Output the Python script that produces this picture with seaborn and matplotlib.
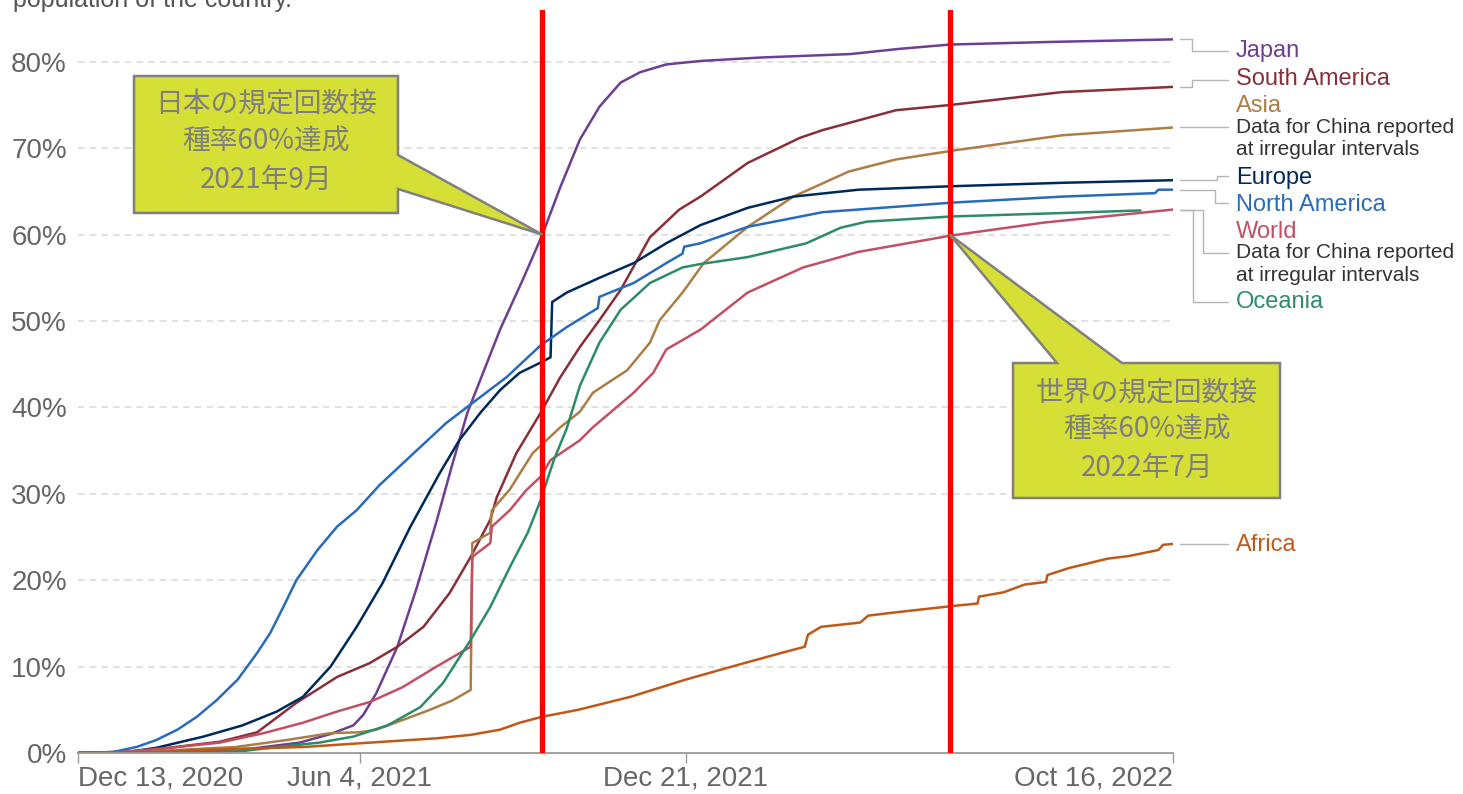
import matplotlib
matplotlib.use("Agg")
import matplotlib.pyplot as plt
import matplotlib.dates as mdates
from matplotlib.patches import Polygon
from matplotlib.lines import Line2D
from matplotlib.transforms import blended_transform_factory
import pandas as pd
import seaborn as sns

START = pd.Timestamp("2020-12-13")
END = pd.Timestamp("2022-10-16")

# Share of people with the initial vaccination protocol completed (%),
# sampled at days since 2020-12-13.
japan_days = [0, 50, 106, 136, 155, 169, 175, 183, 196, 208, 220, 230, 239, 259, 273,
              285, 296, 308, 320, 333, 345, 361, 382, 419, 474, 504, 535, 596, 672]
japan_pct = [0, 0, 0.5, 1.2, 2.2, 3.2, 4.4, 6.9, 12.3, 19.2, 26.8, 33.6, 39.4, 49.0, 54.8,
             60.0, 65.5, 71.0, 74.8, 77.6, 78.8, 79.7, 80.1, 80.5, 80.9, 81.5, 82.0, 82.3, 82.6]

south_america_days = [0, 38, 87, 110, 134, 159, 179, 196, 212, 228, 241, 253, 257, 269, 284,
                      296, 308, 320, 333, 351, 369, 382, 411, 443, 457, 502, 535, 604, 672]
south_america_pct = [0, 0.2, 1.3, 2.4, 5.8, 8.8, 10.4, 12.3, 14.6, 18.5, 22.7, 27.0, 29.6, 34.7, 39.4,
                     43.5, 47.0, 50.1, 53.6, 59.7, 62.9, 64.4, 68.3, 71.2, 72.1, 74.4, 75.0, 76.5, 77.1]

asia_days = [0, 56, 97, 128, 155, 173, 183, 199, 216, 230, 241, 242, 253, 254, 265, 279,
             296, 308, 316, 337, 351, 357, 371, 384, 411, 439, 473, 502, 536, 604, 672]
asia_pct = [0, 0.3, 0.7, 1.5, 2.3, 2.4, 2.7, 3.8, 5.0, 6.1, 7.3, 24.3, 25.5, 28.1, 30.5, 34.7,
            37.7, 39.5, 41.7, 44.3, 47.5, 50.1, 53.3, 56.7, 60.9, 64.4, 67.3, 68.7, 69.7, 71.5, 72.4]

europe_days = [0, 26, 48, 77, 101, 122, 138, 155, 171, 187, 204, 222, 234, 247, 259,
               271, 284, 290, 291, 300, 320, 341, 361, 382, 411, 439, 479, 536, 604, 672]
europe_pct = [0, 0, 0.6, 1.9, 3.2, 4.8, 6.5, 10.0, 14.6, 19.7, 26.2, 32.4, 36.2, 39.4, 42.0,
              44.0, 45.2, 45.8, 52.2, 53.3, 55.0, 56.7, 59.0, 61.1, 63.1, 64.4, 65.2, 65.6, 66.0, 66.3]

north_america_days = [0, 21, 36, 48, 61, 73, 85, 98, 110, 118, 126, 134, 147, 159, 171, 185,
                      206, 226, 242, 263, 284, 300, 319, 320, 341, 361, 371, 372, 382, 411,
                      457, 536, 604, 661, 663, 672]
north_america_pct = [0, 0.1, 0.7, 1.5, 2.7, 4.2, 6.1, 8.5, 11.6, 13.9, 16.9, 20.0, 23.5, 26.2, 28.1, 31.0,
                     34.7, 38.2, 40.5, 43.5, 47.2, 49.3, 51.5, 52.8, 54.4, 56.7, 57.8, 58.6, 59.0, 60.9,
                     62.6, 63.7, 64.4, 64.8, 65.2, 65.2]

world_days = [0, 26, 56, 87, 114, 138, 159, 179, 199, 220, 241, 242, 253, 254, 265,
              275, 284, 290, 308, 316, 341, 353, 361, 382, 411, 445, 479, 536, 593, 672]
world_pct = [0, 0.1, 0.6, 1.2, 2.3, 3.5, 4.8, 5.9, 7.6, 10.0, 12.3, 22.7, 24.3, 26.2, 28.1,
             30.4, 32.0, 33.9, 36.2, 37.7, 41.7, 44.0, 46.7, 49.0, 53.3, 56.2, 58.0, 59.9, 61.4, 62.9]

oceania_days = [0, 60, 100, 118, 148, 169, 190, 210, 224, 241, 253, 265, 276, 284, 292,
                300, 308, 320, 333, 351, 371, 382, 411, 447, 468, 484, 536, 604, 652]
oceania_pct = [0, 0, 0.2, 0.6, 1.2, 1.9, 3.2, 5.3, 8.1, 13.1, 16.9, 21.5, 25.5, 29.3, 33.9,
               37.6, 42.5, 47.5, 51.3, 54.4, 56.2, 56.6, 57.4, 59.0, 60.8, 61.5, 62.1, 62.5, 62.8]

africa_days = [0, 50, 67, 139, 179, 220, 241, 259, 271, 285, 307, 339, 373, 405, 432, 446, 448,
               456, 480, 485, 498, 536, 552, 553, 568, 581, 594, 595, 608, 632, 645, 663, 666, 672]
africa_pct = [0, 0.1, 0.3, 0.7, 1.2, 1.7, 2.1, 2.7, 3.5, 4.2, 5.0, 6.5, 8.5, 10.2, 11.6, 12.3, 13.7,
              14.6, 15.1, 15.9, 16.2, 17.0, 17.3, 18.1, 18.6, 19.5, 19.8, 20.6, 21.4, 22.5, 22.8, 23.5, 24.1, 24.2]

regions = ["Japan", "South America", "Asia", "Europe", "North America", "World", "Oceania", "Africa"]
region_colors = {
    "Japan": "#6D3E91",
    "South America": "#883039",
    "Asia": "#AC7E45",
    "Europe": "#00295B",
    "North America": "#286BBB",
    "World": "#C15065",
    "Oceania": "#2C8C68",
    "Africa": "#C05917",
}

y_ticks = [0, 10, 20, 30, 40, 50, 60, 70, 80]
tick_dates = ["2020-12-13", "2021-06-04", "2021-12-21", "2022-10-16"]
tick_labels = ["Dec 13, 2020", "Jun 4, 2021", "Dec 21, 2021", "Oct 16, 2022"]

milestone_dates = ["2021-09-24", "2022-06-01"]
milestone_level = 60
milestone_texts = ["日本の規定回数接\n種率60%達成\n2021年9月",
                   "世界の規定回数接\n種率60%達成\n2022年7月"]
china_note = ["Data for China reported", "at irregular intervals"]

series = {
    "Japan": (japan_days, japan_pct),
    "South America": (south_america_days, south_america_pct),
    "Asia": (asia_days, asia_pct),
    "Europe": (europe_days, europe_pct),
    "North America": (north_america_days, north_america_pct),
    "World": (world_days, world_pct),
    "Oceania": (oceania_days, oceania_pct),
    "Africa": (africa_days, africa_pct),
}

frames = []
for name, (days, pct) in series.items():
    frames.append(pd.DataFrame({
        "date": START + pd.to_timedelta(days, unit="D"),
        "share": pct,
        "region": name,
    }))
df = pd.concat(frames, ignore_index=True)

sns.set_theme(style="white")
plt.rcParams["font.family"] = ["Liberation Sans", "Noto Sans CJK JP", "DejaVu Sans"]

W, H = 1463, 794
fig = plt.figure(figsize=(W / 100, H / 100), dpi=100)
ax = fig.add_axes([78 / W, 1 - 753 / H, 1095 / W, 743 / H])


def fig_xy(px, py):
    """Pixel position (from top-left) to figure fraction."""
    return (px / W, 1 - py / H)


# dashed horizontal grid
for v in y_ticks[1:]:
    ax.axhline(v, color="#dcdcdc", lw=1.2, ls=(0, (4, 3)), zorder=0)

sns.lineplot(data=df, x="date", y="share", hue="region", hue_order=regions,
             palette=region_colors, estimator=None, sort=False, legend=False,
             linewidth=1.8, ax=ax)

ax.set_xlim(START, END)
ax.set_ylim(0, 86.0)
ax.set_xlabel("")
ax.set_ylabel("")
ax.grid(False)
for side in ("top", "right", "left"):
    ax.spines[side].set_visible(False)
ax.spines["bottom"].set_color("#9a9a9a")
ax.spines["bottom"].set_linewidth(1.3)

ax.set_yticks(y_ticks)
ax.set_yticklabels([f"{v}%" for v in y_ticks])
ax.tick_params(axis="y", left=False, length=0, labelsize=20, labelcolor="#666666", pad=8)

ax.set_xticks(pd.to_datetime(tick_dates))
ax.set_xticklabels(tick_labels)
ax.tick_params(axis="x", bottom=True, direction="out", length=7, width=1,
               color="#9a9a9a", labelsize=20, labelcolor="#666666", pad=2)
xt = ax.get_xticklabels()
xt[0].set_horizontalalignment("left")
xt[-1].set_horizontalalignment("right")

# milestone markers
for d in milestone_dates:
    ax.axvline(pd.Timestamp(d), color="#ff0000", lw=3.8, zorder=5)

# right-hand labels with elbow connectors
trans = blended_transform_factory(ax.transAxes, ax.transData)
label_layout = [
    # region, label y, connector y, elbow x
    ("Japan", 81.2, 81.2, 1.0174),
    ("South America", 78.0, 77.9, 1.0174),
    ("Asia", 74.9, 72.4, 1.0174),
    ("Europe", 66.6, 66.8, 1.0402),
    ("North America", 63.4, 63.7, 1.0384),
    ("World", 60.3, 57.9, 1.0274),
    ("Oceania", 52.2, 52.2, 1.0183),
    ("Africa", 24.1, 24.2, 1.0174),
]
for name, ly, cy, ex in label_layout:
    last = series[name][1][-1]
    ax.add_line(Line2D([1.0064, ex, ex, 1.0502], [last, last, cy, cy],
                       transform=trans, color="#b5b5b5", lw=1.0, clip_on=False))
    ax.text(1.0575, ly, name, transform=trans, color=region_colors[name],
            fontsize=17, va="center", ha="left", clip_on=False)
    if name in ("Asia", "World"):
        ax.text(1.0575, cy, china_note[0], transform=trans, color="#333333",
                fontsize=15, va="center", ha="left", clip_on=False)
        ax.text(1.0575, cy - 2.6, china_note[1], transform=trans, color="#333333",
                fontsize=15, va="center", ha="left", clip_on=False)

# top line of the subtitle
fig.text(13 / W, 1 - 7.3 / H, "population of the country.", fontsize=18,
         color="#555555", va="baseline", ha="left")

# speech-bubble callouts pointing at the 60% crossings
inv = fig.transFigure.inverted()


def tip_of(date):
    disp = ax.transData.transform((mdates.date2num(pd.Timestamp(date)), milestone_level))
    return tuple(inv.transform(disp))


tip1 = tip_of(milestone_dates[0])
bubble1 = [fig_xy(134, 76), fig_xy(398, 76), fig_xy(398, 155), tip1,
           fig_xy(398, 189), fig_xy(398, 213), fig_xy(134, 213)]
tip2 = tip_of(milestone_dates[1])
bubble2 = [fig_xy(1013, 363), fig_xy(1057, 363), tip2, fig_xy(1122, 363),
           fig_xy(1280, 363), fig_xy(1280, 498), fig_xy(1013, 498)]

for verts, center, text in [(bubble1, fig_xy(266, 142), milestone_texts[0]),
                            (bubble2, fig_xy(1147, 430), milestone_texts[1])]:
    fig.patches.append(Polygon(verts, closed=True, transform=fig.transFigure,
                               facecolor="#d6df35", edgecolor="#808080", lw=1.8,
                               joinstyle="miter", zorder=10))
    fig.text(center[0], center[1], text, fontsize=20, color="#7f7f7f",
             family=["Noto Sans CJK JP", "DejaVu Sans"], ha="center", va="center",
             multialignment="center", linespacing=1.32, zorder=11)

fig.savefig("out.png", dpi=100)
